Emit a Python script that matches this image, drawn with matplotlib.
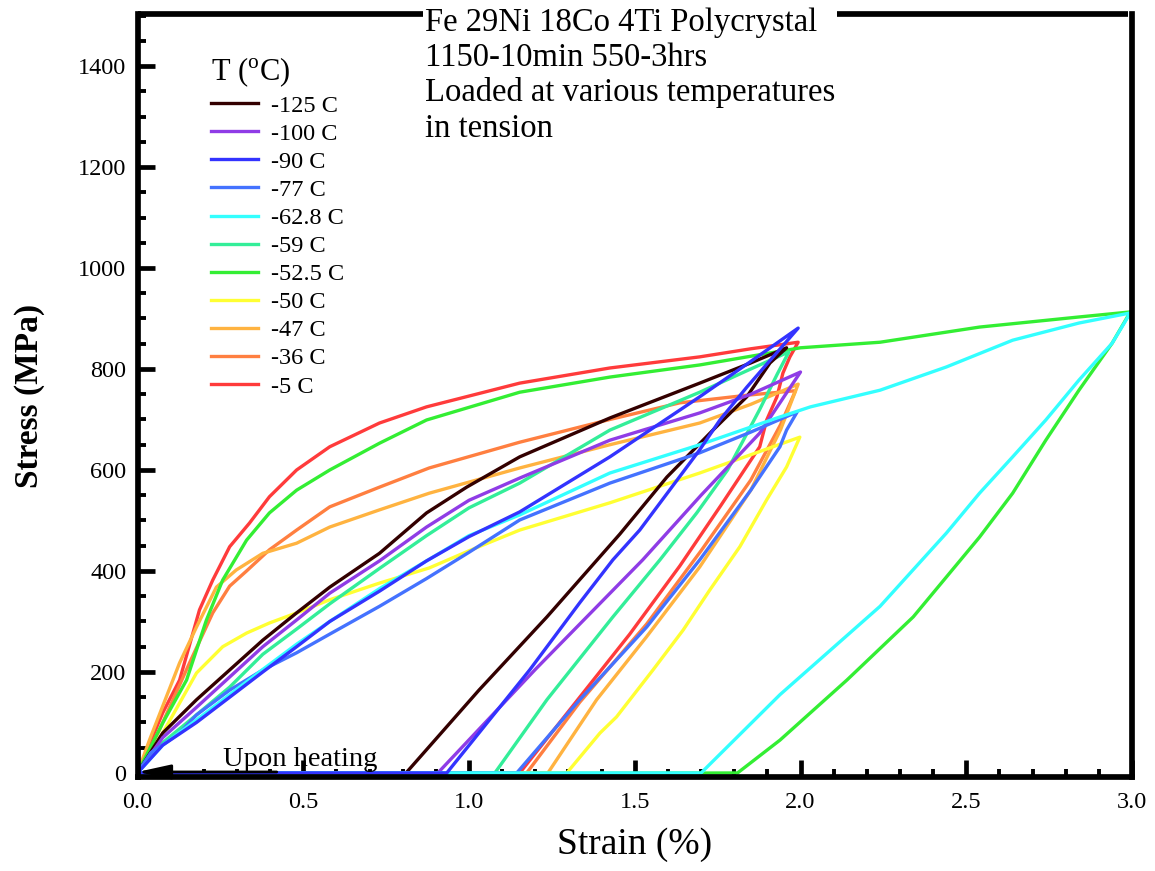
import matplotlib
matplotlib.use('Agg')
import matplotlib.pyplot as plt
from matplotlib.ticker import MultipleLocator

plt.rcParams['font.family'] = ['Liberation Serif', 'DejaVu Serif']
plt.rcParams['mathtext.fontset'] = 'custom'
plt.rcParams['mathtext.rm'] = 'Liberation Serif'

# strain (%) / stress (MPa): loading -> unloading -> recovery on heating
temps = ['-125 C', '-100 C', '-90 C', '-77 C', '-62.8 C', '-59 C',
         '-52.5 C', '-50 C', '-47 C', '-36 C', '-5 C']
colors = ['#330000', '#8f3ce6', '#3333ff', '#4472ff', '#33ffff', '#33ee99',
          '#33ee33', '#ffff33', '#ffb340', '#ff7f40', '#ff3b3b']

strain_m125 = [0, 0.076, 0.178, 0.278, 0.378, 0.48, 0.58, 0.73, 0.872, 0.993,
               1.153, 1.425, 1.696, 1.85, 1.958,
               1.908, 1.838, 1.736, 1.597, 1.455, 1.235, 1.03, 0.81, 0]
stress_m125 = [0, 79, 145, 204, 263, 317, 368, 435, 515, 566,
               626, 703, 772, 812, 842,
               812, 745, 679, 586, 473, 309, 164, 0, 0]

strain_m100 = [0, 0.076, 0.178, 0.278, 0.378, 0.48, 0.58, 0.73, 0.872, 1.0,
               1.153, 1.425, 1.696, 1.85, 2.0,
               1.94, 1.877, 1.7, 1.524, 1.2, 0.906, 0]
stress_m100 = [0, 70, 130, 190, 250, 303, 356, 420, 487, 540,
               584, 659, 713, 750, 794,
               735, 673, 550, 422, 205, 0, 0]

strain_m90 = [0, 0.076, 0.178, 0.278, 0.378, 0.48, 0.58, 0.73, 0.872, 1.0,
              1.153, 1.425, 1.696, 1.85, 1.993,
              1.838, 1.757, 1.696, 1.515, 1.434, 1.334, 1.183, 0.933, 0]
stress_m90 = [0, 55, 100, 150, 200, 250, 300, 360, 420, 468,
              517, 626, 745, 815, 881,
              764, 699, 640, 481, 422, 337, 204, 0, 0]

strain_m77 = [0, 0.04, 0.127, 0.178, 0.278, 0.378, 0.48, 0.58, 0.73, 0.872,
              1.0, 1.153, 1.425, 1.696, 1.85, 1.99,
              1.958, 1.938, 1.85, 1.696, 1.536, 1.334, 1.144, 0]
stress_m77 = [0, 40, 79, 115, 164, 204, 238, 275, 330, 385,
              437, 501, 574, 634, 675, 715,
              679, 646, 560, 422, 289, 145, 0, 0]

strain_m62 = [0, 0.076, 0.178, 0.278, 0.378, 0.48, 0.58, 0.73, 0.872, 1.0,
              1.153, 1.425, 1.696, 1.938, 2.03, 2.24, 2.44, 2.64, 2.84, 2.995,
              2.94, 2.84, 2.74, 2.64, 2.54, 2.44, 2.24, 1.938, 1.70, 0]
stress_m62 = [0, 55, 105, 155, 205, 255, 300, 365, 420, 470,
              511, 594, 650, 705, 725, 758, 804, 857, 891, 911,
              851, 778, 699, 626, 554, 475, 330, 155, 0, 0]

strain_m59 = [0, 0.076, 0.178, 0.278, 0.378, 0.48, 0.58, 0.73, 0.872, 1.0,
              1.153, 1.425, 1.696, 1.85, 1.965,
              1.93, 1.877, 1.78, 1.687, 1.576, 1.434, 1.235, 1.078, 0]
stress_m59 = [0, 60, 115, 170, 235, 285, 335, 405, 470, 525,
              574, 679, 754, 800, 834,
              790, 720, 600, 515, 422, 309, 145, 0, -3]

strain_m52 = [0, 0.076, 0.148, 0.208, 0.257, 0.329, 0.398, 0.48, 0.58, 0.73,
              0.872, 1.153, 1.425, 1.696, 2.0, 2.24, 2.54, 2.84, 2.995,
              2.94, 2.84, 2.74, 2.64, 2.54, 2.34, 2.14, 1.938, 1.81, 0]
stress_m52 = [0, 99, 184, 303, 382, 461, 515, 560, 600, 653,
              699, 754, 784, 808, 842, 853, 883, 903, 913,
              851, 758, 659, 554, 467, 309, 184, 65, 0, -3]

strain_m50 = [0, 0.076, 0.178, 0.257, 0.329, 0.398, 0.48, 0.58, 0.73, 0.88,
              1.0, 1.153, 1.425, 1.696, 1.998,
              1.958, 1.898, 1.817, 1.726, 1.646, 1.555, 1.445, 1.395, 1.295, 0]
stress_m50 = [0, 79, 198, 250, 277, 297, 317, 343, 376, 406,
              440, 481, 535, 594, 665,
              606, 541, 448, 362, 283, 204, 111, 79, 0, -3]

strain_m47 = [0, 0.036, 0.127, 0.178, 0.238, 0.298, 0.378, 0.48, 0.58, 0.73,
              0.88, 1.153, 1.425, 1.696, 1.85, 1.993,
              1.94, 1.85, 1.696, 1.536, 1.385, 1.238, 0]
stress_m47 = [0, 65, 218, 289, 368, 402, 435, 455, 487, 521,
              554, 604, 650, 693, 730, 770,
              680, 560, 408, 270, 145, 0, -3]

strain_m36 = [0, 0.066, 0.157, 0.227, 0.278, 0.329, 0.398, 0.48, 0.58, 0.73,
              0.88, 1.153, 1.425, 1.636, 1.838, 1.985,
              1.94, 1.85, 1.7, 1.536, 1.334, 1.174, 0]
stress_m36 = [0, 85, 218, 317, 370, 400, 442, 481, 527, 566,
              604, 655, 700, 733, 748, 757,
              690, 580, 440, 295, 140, 0, -3]

strain_m5 = [0, 0.076, 0.127, 0.187, 0.227, 0.278, 0.338, 0.398, 0.48, 0.58,
             0.73, 0.872, 1.153, 1.425, 1.696, 1.85, 1.993,
             1.968, 1.947, 1.929, 1.898, 1.877, 1.76, 1.636, 1.485, 1.334,
             1.153, 0]
stress_m5 = [0, 119, 184, 323, 382, 448, 495, 547, 600, 646,
             693, 725, 772, 802, 824, 840, 853,
             824, 792, 745, 699, 646, 530, 410, 275, 150,
             0, -3]

curves = [(strain_m125, stress_m125), (strain_m100, stress_m100),
          (strain_m90, stress_m90), (strain_m77, stress_m77),
          (strain_m62, stress_m62), (strain_m59, stress_m59),
          (strain_m52, stress_m52), (strain_m50, stress_m50),
          (strain_m47, stress_m47), (strain_m36, stress_m36),
          (strain_m5, stress_m5)]

# drawing order: warm curves first, -62.8 and -90 C on top along the baseline
draw_order = [10, 9, 8, 7, 6, 5, 0, 1, 3, 4, 2]

fig = plt.figure(figsize=(11.55, 8.71), dpi=100)
W, H = 1155., 871.
x0, x1, y0, y1 = 137.5, 1132., 777., 14.
ax = fig.add_axes([x0 / W, 1 - y0 / H, (x1 - x0) / W, (y0 - y1) / H])

handles = [None] * len(temps)
for i in draw_order:
    s, st = curves[i]
    h, = ax.plot(s, st, color=colors[i], lw=2.4, solid_joinstyle='round')
    handles[i] = h

ax.set_xlim(0, 3.0)
ax.set_ylim(-8, 1503)

for side in ['left', 'bottom', 'right']:
    ax.spines[side].set_linewidth(4.1)
ax.spines['top'].set_visible(False)
# top frame line is broken by the heading text
gap_l = (423 - x0) / (x1 - x0)
gap_r = (837 - x0) / (x1 - x0)
ax.plot([0, gap_l], [1, 1], color='k', lw=4.1, transform=ax.transAxes,
        clip_on=False, solid_capstyle='butt', zorder=5)
ax.plot([gap_r, 0.996], [1, 1], color='k', lw=4.1, transform=ax.transAxes,
        clip_on=False, solid_capstyle='butt', zorder=5)

ax.xaxis.set_major_locator(MultipleLocator(0.5))
ax.xaxis.set_minor_locator(MultipleLocator(0.1))
ax.yaxis.set_major_locator(MultipleLocator(200))
ax.yaxis.set_minor_locator(MultipleLocator(50))
ax.xaxis.set_major_formatter(plt.FuncFormatter(lambda v, p: '%.1f' % v))
ax.yaxis.set_major_formatter(plt.FuncFormatter(lambda v, p: '%d' % v))

ax.tick_params(which='both', direction='in', top=False, right=False)
ax.tick_params(which='major', length=12, width=3.4, labelsize=17.5)
ax.tick_params(which='minor', length=6, width=2.8)
ax.tick_params(axis='x', which='major', pad=11)
ax.tick_params(axis='y', which='major', pad=8)

ax.set_xlabel('Strain (%)', fontsize=27)
ax.xaxis.set_label_coords(0.5, -0.066)
ax.set_ylabel('Stress (MPa)', fontsize=24, fontweight='bold')
ax.yaxis.set_label_coords(-0.093, 0.5)

fig.text(425 / W, 1 - 7 / H,
         'Fe 29Ni 18Co 4Ti Polycrystal\n1150-10min 550-3hrs\n'
         'Loaded at various temperatures\nin tension',
         fontsize=23.5, va='top', ha='left', linespacing=1.2)

ax.text(0.257, 14, 'Upon heating', fontsize=20.5, ha='left', va='baseline')
arr = ax.annotate('', xy=(0.0, 2), xytext=(0.42, 2), annotation_clip=False,
                  arrowprops=dict(arrowstyle='-|>,head_length=1.0,head_width=0.22',
                                  color='k', lw=2.0, mutation_scale=20,
                                  shrinkA=0, shrinkB=0), zorder=6)
arr.arrow_patch.set_clip_on(False)

leg = ax.legend(handles, temps, loc='upper left',
                bbox_to_anchor=((211 - x0) / (x1 - x0), (y0 - 55) / (y0 - y1)),
                frameon=False, fontsize=17.5, title=r'T ($^{\rm o}$C)',
                title_fontsize=22, alignment='left', handlelength=1.95,
                handletextpad=0.5, labelspacing=0.25, borderpad=0,
                borderaxespad=0)

fig.savefig('out.png', dpi=100)
